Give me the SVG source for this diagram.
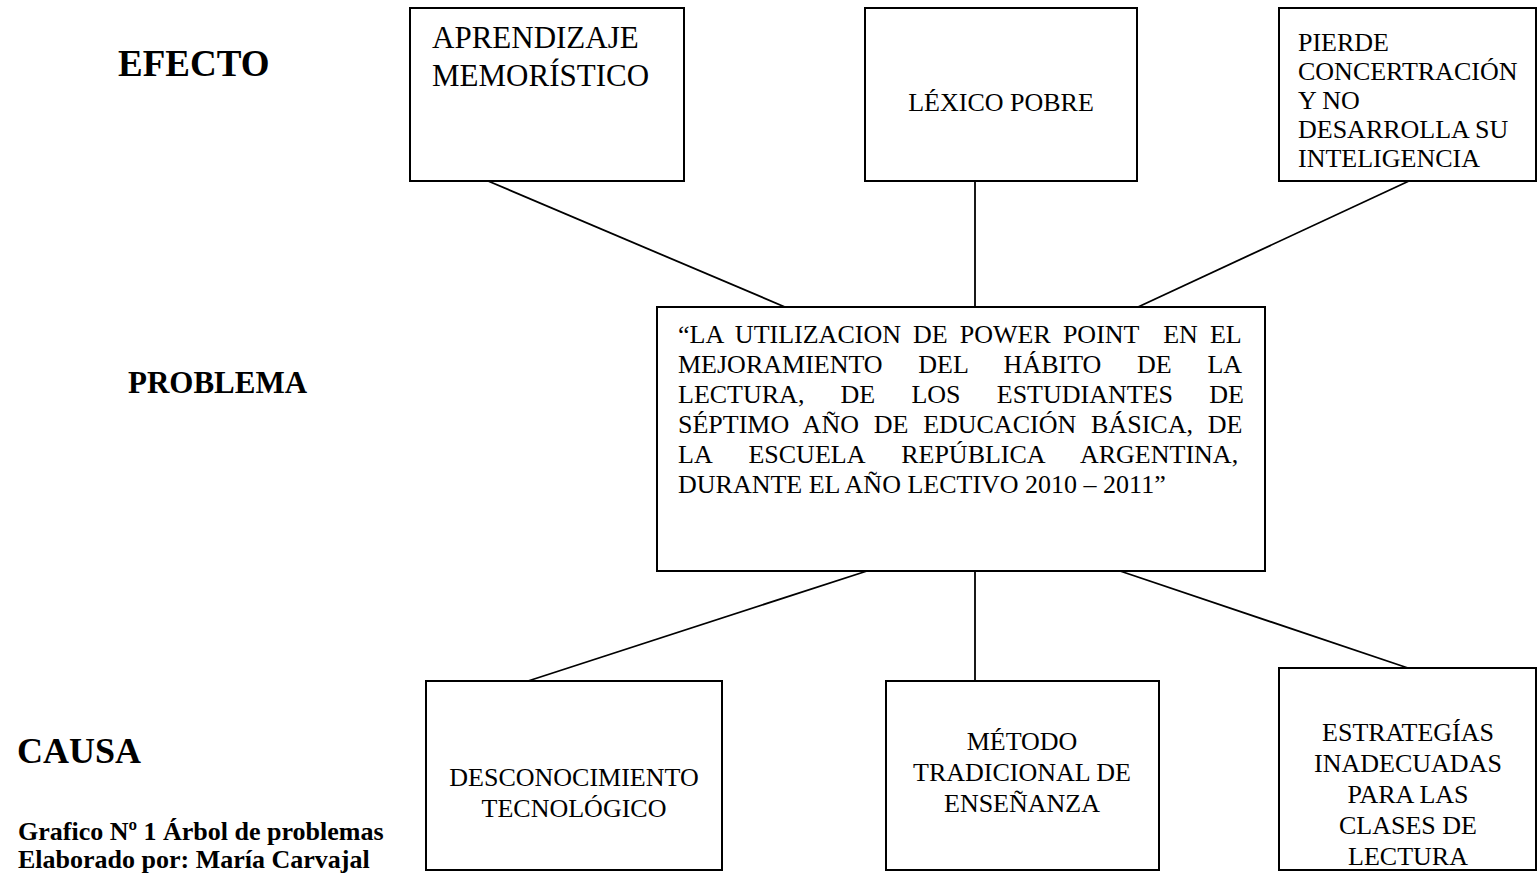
<svg xmlns="http://www.w3.org/2000/svg" width="1537" height="874" viewBox="0 0 1537 874">
<style>
.box{fill:#fff;stroke:#000;stroke-width:2}
.con line{stroke:#000;stroke-width:1.8}
.t{font-size:26px;fill:#000}
.big{font-size:31px}
.lbl{font-weight:bold;fill:#000}
.c{text-anchor:middle}
</style>
<rect width="1537" height="874" fill="#fff"/>
<g font-family="Liberation Serif, Times New Roman, Times, serif">
<g id="labels">
<text class="lbl" x="118" y="76" font-size="37">EFECTO</text>
<text class="lbl" x="128" y="393" font-size="31">PROBLEMA</text>
<text class="lbl" x="17" y="763" font-size="36">CAUSA</text>
<text class="lbl" x="18" y="840" font-size="26">Grafico Nº 1 Árbol de problemas</text>
<text class="lbl" x="18" y="868" font-size="26">Elaborado por: María Carvajal</text>
</g>
<g id="connectors" class="con">
<line x1="488" y1="181" x2="785" y2="307"/>
<line x1="975" y1="181" x2="975" y2="307"/>
<line x1="1409" y1="181" x2="1138" y2="307"/>
<line x1="867" y1="571" x2="528" y2="681"/>
<line x1="975" y1="571" x2="975" y2="681"/>
<line x1="1120" y1="571" x2="1408" y2="668"/>
</g>
<g id="efecto1">
<rect class="box" x="410" y="8" width="274" height="173"/>
<text class="t big" x="432" y="48">APRENDIZAJE</text>
<text class="t big" x="432" y="86">MEMORÍSTICO</text>
</g>
<g id="efecto2">
<rect class="box" x="865" y="8" width="272" height="173"/>
<text class="t c" x="1001" y="111">LÉXICO POBRE</text>
</g>
<g id="efecto3">
<rect class="box" x="1279" y="8" width="257" height="173"/>
<text class="t" x="1298" y="51">PIERDE</text>
<text class="t" x="1298" y="80">CONCERTRACIÓN</text>
<text class="t" x="1298" y="109">Y NO</text>
<text class="t" x="1298" y="138">DESARROLLA SU</text>
<text class="t" x="1298" y="167">INTELIGENCIA</text>
</g>
<g id="problema">
<rect class="box" x="657" y="307" width="608" height="264"/>
<text class="t" x="678" y="343" style="word-spacing:5.6px;white-space:pre">“LA UTILIZACION DE POWER POINT  EN EL</text>
<text class="t" x="678" y="373" style="word-spacing:29.2px">MEJORAMIENTO DEL HÁBITO DE LA</text>
<text class="t" x="678" y="403" style="word-spacing:29.7px">LECTURA, DE LOS ESTUDIANTES DE</text>
<text class="t" x="678" y="433" style="word-spacing:8.3px">SÉPTIMO AÑO DE EDUCACIÓN BÁSICA, DE</text>
<text class="t" x="678" y="463" style="word-spacing:30.7px">LA ESCUELA REPÚBLICA ARGENTINA,</text>
<text class="t" x="678" y="493">DURANTE EL AÑO LECTIVO 2010 – 2011”</text>
</g>
<g id="causa1">
<rect class="box" x="426" y="681" width="296" height="189"/>
<text class="t c" x="574" y="786">DESCONOCIMIENTO</text>
<text class="t c" x="574" y="817">TECNOLÓGICO</text>
</g>
<g id="causa2">
<rect class="box" x="886" y="681" width="273" height="189"/>
<text class="t c" x="1022" y="750">MÉTODO</text>
<text class="t c" x="1022" y="781">TRADICIONAL DE</text>
<text class="t c" x="1022" y="812">ENSEÑANZA</text>
</g>
<g id="causa3">
<rect class="box" x="1279" y="668" width="257" height="202"/>
<text class="t c" x="1408" y="741">ESTRATEGÍAS</text>
<text class="t c" x="1408" y="772">INADECUADAS</text>
<text class="t c" x="1408" y="803">PARA LAS</text>
<text class="t c" x="1408" y="834">CLASES DE</text>
<text class="t c" x="1408" y="865">LECTURA</text>
</g>
</g>
</svg>
